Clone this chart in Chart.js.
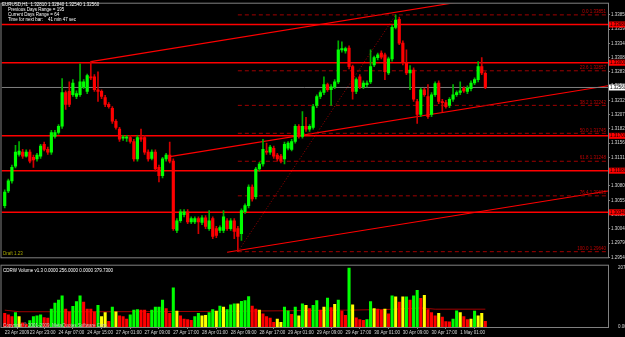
<!DOCTYPE html>
<html>
<head>
<meta charset="utf-8">
<title>EURUSD,H1</title>
<script src="https://cdn.jsdelivr.net/npm/chart.js@4.4.1/dist/chart.umd.min.js"></script>
<style>
  html, body { margin: 0; padding: 0; background: #000; width: 625px; height: 337px; overflow: hidden; }
  #priceChart { position: absolute; left: 0; top: 0; }
  #volumeChart { position: absolute; left: 0; top: 261px; }
</style>
</head>
<body>
<canvas id="priceChart" width="625" height="261"></canvas>
<canvas id="volumeChart" width="625" height="76"></canvas>
<script>
// ===== Data: EURUSD H1 candles [open, high, low, close], bar 1 = 23 Apr 16:00 =====
const candles = [
  // 1-10
  [1.3046, 1.3074, 1.3042, 1.3070], [1.3072, 1.3093, 1.3069, 1.3090], [1.3090, 1.3118, 1.3086, 1.3114],
  [1.3116, 1.3153, 1.3113, 1.3141], [1.3137, 1.3160, 1.3134, 1.3143], [1.3141, 1.3146, 1.3130, 1.3134],
  [1.3134, 1.3145, 1.3132, 1.3141], [1.3141, 1.3145, 1.3122, 1.3125], [1.3132, 1.3136, 1.3114, 1.3127],
  [1.3129, 1.3139, 1.3125, 1.3136],
  // 11-20
  [1.3134, 1.3155, 1.3130, 1.3152], [1.3155, 1.3159, 1.3143, 1.3146], [1.3146, 1.3150, 1.3137, 1.3141],
  [1.3141, 1.3180, 1.3137, 1.3176], [1.3169, 1.3180, 1.3166, 1.3176], [1.3176, 1.3190, 1.3173, 1.3187],
  [1.3187, 1.3272, 1.3183, 1.3247], [1.3247, 1.3250, 1.3217, 1.3226], [1.3249, 1.3266, 1.3222, 1.3226],
  [1.3243, 1.3270, 1.3240, 1.3264],
  // 21-30
  [1.3240, 1.3250, 1.3236, 1.3245], [1.3243, 1.3298, 1.3240, 1.3266], [1.3257, 1.3270, 1.3254, 1.3266],
  [1.3249, 1.3280, 1.3245, 1.3277], [1.3275, 1.3302, 1.3270, 1.3273], [1.3275, 1.3279, 1.3249, 1.3252],
  [1.3252, 1.3284, 1.3231, 1.3249], [1.3249, 1.3252, 1.3236, 1.3240], [1.3238, 1.3242, 1.3222, 1.3226],
  [1.3226, 1.3229, 1.3219, 1.3222],
  // 31-40
  [1.3219, 1.3222, 1.3192, 1.3196], [1.3196, 1.3199, 1.3182, 1.3185], [1.3182, 1.3185, 1.3160, 1.3164],
  [1.3166, 1.3171, 1.3162, 1.3167], [1.3166, 1.3171, 1.3160, 1.3167], [1.3167, 1.3171, 1.3157, 1.3160],
  [1.3160, 1.3164, 1.3125, 1.3129], [1.3129, 1.3171, 1.3125, 1.3167], [1.3167, 1.3182, 1.3160, 1.3164],
  [1.3167, 1.3171, 1.3137, 1.3141],
  // 41-50
  [1.3141, 1.3145, 1.3125, 1.3129], [1.3130, 1.3145, 1.3127, 1.3141], [1.3141, 1.3145, 1.3107, 1.3111],
  [1.3114, 1.3118, 1.3088, 1.3099], [1.3099, 1.3132, 1.3095, 1.3129], [1.3129, 1.3139, 1.3125, 1.3136],
  [1.3136, 1.3159, 1.3122, 1.3125], [1.3125, 1.3129, 1.3002, 1.3005], [1.3002, 1.3023, 1.2998, 1.3019],
  [1.3019, 1.3039, 1.3016, 1.3035],
  // 51-60
  [1.3030, 1.3039, 1.3026, 1.3035], [1.3035, 1.3039, 1.3014, 1.3017], [1.3017, 1.3026, 1.3014, 1.3023],
  [1.3017, 1.3026, 1.3014, 1.3023], [1.3023, 1.3026, 1.2996, 1.3017], [1.3016, 1.3028, 1.3012, 1.3024],
  [1.3024, 1.3028, 1.3005, 1.3009], [1.3005, 1.3037, 1.3002, 1.3019], [1.3023, 1.3026, 1.2987, 1.2991],
  [1.3005, 1.3009, 1.2989, 1.2993],
  // 61-70
  [1.3002, 1.3010, 1.2998, 1.3007], [1.3002, 1.3037, 1.2998, 1.3026], [1.3019, 1.3023, 1.3002, 1.3005],
  [1.3005, 1.3023, 1.3002, 1.3019], [1.3019, 1.3023, 1.2987, 1.3000], [1.3005, 1.3009, 1.2964, 1.2991],
  [1.2996, 1.3040, 1.2984, 1.3037], [1.3035, 1.3049, 1.3032, 1.3046], [1.3046, 1.3083, 1.3042, 1.3079],
  [1.3079, 1.3083, 1.3054, 1.3058],
  // 71-80
  [1.3062, 1.3114, 1.3058, 1.3111], [1.3111, 1.3123, 1.3107, 1.3120], [1.3120, 1.3164, 1.3116, 1.3146],
  [1.3143, 1.3157, 1.3137, 1.3141], [1.3141, 1.3153, 1.3137, 1.3150], [1.3148, 1.3152, 1.3130, 1.3134],
  [1.3136, 1.3139, 1.3125, 1.3129], [1.3134, 1.3137, 1.3122, 1.3125], [1.3129, 1.3159, 1.3120, 1.3155],
  [1.3148, 1.3160, 1.3145, 1.3157],
  // 81-90
  [1.3146, 1.3164, 1.3143, 1.3160], [1.3160, 1.3190, 1.3157, 1.3187], [1.3187, 1.3190, 1.3166, 1.3169],
  [1.3169, 1.3213, 1.3166, 1.3187], [1.3187, 1.3203, 1.3178, 1.3182], [1.3182, 1.3190, 1.3178, 1.3187],
  [1.3185, 1.3226, 1.3182, 1.3222], [1.3224, 1.3243, 1.3220, 1.3240], [1.3240, 1.3250, 1.3236, 1.3247],
  [1.3247, 1.3275, 1.3243, 1.3261],
  // 91-100
  [1.3261, 1.3264, 1.3249, 1.3252], [1.3252, 1.3261, 1.3224, 1.3257], [1.3257, 1.3270, 1.3254, 1.3266],
  [1.3266, 1.3339, 1.3263, 1.3323], [1.3323, 1.3337, 1.3319, 1.3325], [1.3321, 1.3328, 1.3317, 1.3325],
  [1.3326, 1.3330, 1.3289, 1.3293], [1.3293, 1.3296, 1.3235, 1.3249], [1.3249, 1.3273, 1.3245, 1.3270],
  [1.3275, 1.3279, 1.3254, 1.3257],
  // 101-110
  [1.3257, 1.3268, 1.3254, 1.3264], [1.3261, 1.3268, 1.3257, 1.3264], [1.3266, 1.3323, 1.3263, 1.3293],
  [1.3296, 1.3312, 1.3293, 1.3309], [1.3309, 1.3317, 1.3305, 1.3314], [1.3317, 1.3321, 1.3307, 1.3310],
  [1.3314, 1.3317, 1.3270, 1.3284], [1.3282, 1.3310, 1.3279, 1.3307], [1.3307, 1.3367, 1.3303, 1.3363],
  [1.3363, 1.3385, 1.3360, 1.3376],
  // 111-120
  [1.3377, 1.3381, 1.3332, 1.3335], [1.3335, 1.3339, 1.3296, 1.3300], [1.3300, 1.3323, 1.3279, 1.3282],
  [1.3282, 1.3295, 1.3252, 1.3287], [1.3287, 1.3291, 1.3231, 1.3235], [1.3231, 1.3235, 1.3192, 1.3208],
  [1.3208, 1.3255, 1.3204, 1.3252], [1.3252, 1.3255, 1.3240, 1.3243], [1.3240, 1.3261, 1.3201, 1.3204],
  [1.3208, 1.3247, 1.3204, 1.3243],
  // 121-130
  [1.3243, 1.3266, 1.3240, 1.3263], [1.3264, 1.3268, 1.3227, 1.3231], [1.3231, 1.3235, 1.3213, 1.3229],
  [1.3229, 1.3233, 1.3219, 1.3222], [1.3224, 1.3238, 1.3220, 1.3235], [1.3235, 1.3261, 1.3231, 1.3243],
  [1.3243, 1.3250, 1.3240, 1.3247], [1.3247, 1.3266, 1.3243, 1.3250], [1.3254, 1.3257, 1.3247, 1.3250],
  [1.3249, 1.3259, 1.3245, 1.3255],
  // 131-135
  [1.3254, 1.3268, 1.3250, 1.3264], [1.3264, 1.3273, 1.3261, 1.3270], [1.3270, 1.3302, 1.3266, 1.3293],
  [1.3293, 1.3309, 1.3279, 1.3282], [1.3281, 1.3284, 1.3254, 1.3256],
];

// ===== Data: CDRW Volume histogram (same bars) =====
const volumes = [
  482, 426, 370, 504, 370, 146, 90, 224, 370, 392,
  426, 336, 314, 628, 840, 952, 1098, 628, 538, 728,
  896, 1098, 874, 628, 628, 538, 762, 370, 504, 202,
  706, 538, 392, 370, 280, 426, 594, 616, 594, 594,
  482, 594, 706, 706, 952, 650, 482, 1378, 560, 392,
  280, 258, 236, 370, 482, 392, 415, 504, 616, 560,
  740, 706, 616, 784, 818, 818, 908, 930, 1076, 740,
  628, 594, 460, 370, 314, 168, 280, 168, 706, 572,
  448, 706, 392, 818, 762, 650, 762, 930, 594, 706,
  1020, 684, 796, 952, 560, 415, 2072, 784, 325, 258,
  236, 258, 896, 650, 628, 594, 628, 460, 1098, 1064,
  874, 1064, 1064, 952, 1098, 1288, 1008, 1120, 616, 504,
  392, 482, 348, 191, 180, 280, 572, 504, 370, 258,
  280, 560, 392, 482, 202,
];
// U = rising, D = falling, F = flat (indicator state per bar)
const volumeState = [
  'D','D','D','U','F','D','D','U','U','U',
  'U','D','D','U','U','U','U','D','D','U',
  'U','U','D','D','D','D','U','F','F','D',
  'U','F','D','D','D','U','U','U','D','D',
  'D','U','U','U','U','D','D','U','F','D',
  'D','D','D','U','U','F','F','U','U','F',
  'U','F','U','U','U','F','U','U','U','D',
  'D','F','D','D','D','D','F','F','U','U',
  'D','U','F','U','F','D','U','U','D','F',
  'U','D','F','U','D','D','U','F','D','D',
  'D','U','U','F','D','D','F','D','U','F',
  'D','F','U','D','U','U','D','F','D','D',
  'D','F','D','D','D','U','U','F','D','D',
  'F','U','F','F','D',
];
const volumeMaBars = [1, 5, 30, 60, 88, 96, 107, 112, 117, 121, 135];
const volumeMaValues = [594, 538, 538, 550, 583, 594, 616, 639, 672, 628, 628];

// ===== Axis ticks =====
const priceTicks = [1.29540, 1.29794, 1.30047, 1.30301, 1.30554, 1.30808, 1.31061, 1.31315, 1.31568,
  1.31822, 1.32075, 1.32329, 1.32582, 1.32836, 1.33089, 1.33343, 1.33596, 1.33850];
const timeTicks = [1, 8, 16, 24, 32, 40, 48, 56, 64, 72, 80, 88, 96, 104, 112, 120, 128];
const timeLabels = ['23 Apr 2009', '23 Apr 23:00', '24 Apr 07:00', '24 Apr 15:00', '27 Apr 01:00',
  '27 Apr 09:00', '27 Apr 17:00', '28 Apr 01:00', '28 Apr 09:00', '28 Apr 17:00', '29 Apr 01:00',
  '29 Apr 09:00', '29 Apr 17:00', '30 Apr 01:00', '30 Apr 09:00', '30 Apr 17:00', '1 May 01:00'];
const volumeTicks = [0, 2070.6];
const volumeTickLabels = ['0.0000', '2070.6'];

// ===== Objects drawn on the chart =====
const levels = [1.33680, 1.33000, 1.31700, 1.31080, 1.30340];
const bidPrice = 1.32560;
const fibRatios = ['0.0', '23.6', '38.2', '50.0', '61.8', '76.4', '100.0'];
const fibLevels = [1.33851, 1.32857, 1.32242, 1.31745, 1.31248, 1.30633, 1.29640];
const fibAnchors = [[66, 1.2964], [110, 1.3385]];
// [fromBar, fromPrice, toBar, toPrice]
const channels = [
  [25, 1.3302, 169.2, 1.3451],
  [47, 1.3133, 169.2, 1.3259],
  [63, 1.2963, 169.2, 1.3072],
];

const headerLines = [
  'EURUSD,H1  1.32810 1.32840 1.32540 1.32560',
  'Previous Days Range = 195',
  'Current Days Range = 64',
  'Time for next bar:    41 min 47 sec',
];

// ===== Look =====
const X_MIN = 0.1, X_MAX = 169.2;
const colors = {
  up: '#00ff00', down: '#ff0000', wickUp: '#00b000', wickDown: '#d00000',
  level: '#ff0000', fib: '#a00000', frame: '#808080', text: '#d8d8d8', flat: '#ffff00',
};
const FONT = '"Liberation Sans", Arial, sans-serif';
Chart.defaults.font.family = FONT;
Chart.defaults.font.size = 4.5;
Chart.defaults.color = colors.text;

const fixedWidth = w => scale => { scale.width = w; };
const isUp = c => c[3] >= c[0];

function lineSet(points, color, width, dash) {
  return {
    type: 'line', data: points.map(p => ({ x: p[0], y: p[1] })),
    borderColor: color, borderWidth: width, borderDash: dash || [],
    pointRadius: 0, fill: false, order: 5, tension: 0,
  };
}

// ===== Price chart overlays (frame, labels, info text) =====
const priceOverlay = {
  id: 'priceOverlay',
  afterDraw(chart) {
    const { ctx, chartArea: a } = chart;
    const y = chart.scales.y;
    ctx.save();
    ctx.strokeStyle = colors.frame;
    ctx.lineWidth = 1;
    ctx.strokeRect(a.left - 0.5, a.top - 0.5, a.right - a.left + 1, a.bottom - a.top + 1);
    ctx.font = '4.5px ' + FONT;
    ctx.textBaseline = 'middle';

    // fib level captions
    ctx.fillStyle = '#c00000';
    ctx.textAlign = 'right';
    fibLevels.forEach((v, i) => {
      ctx.fillText(fibRatios[i] + ' ' + v.toFixed(5), a.right - 2, y.getPixelForValue(v) - 3);
    });

    // price boxes for the horizontal lines
    ctx.textAlign = 'left';
    levels.forEach(v => {
      const py = y.getPixelForValue(v);
      ctx.fillStyle = '#ff0000';
      ctx.fillRect(a.right + 1, py - 3, 17, 6);
      ctx.fillStyle = '#000';
      ctx.fillText(v.toFixed(5), a.right + 2, py);
    });
    const by = y.getPixelForValue(bidPrice);
    ctx.fillStyle = '#ffffff';
    ctx.fillRect(a.right + 1, by - 3, 17, 6);
    ctx.fillStyle = '#000';
    ctx.fillText(bidPrice.toFixed(5), a.right + 2, by);

    // info block
    ctx.fillStyle = '#ffffff';
    headerLines.forEach((t, i) => ctx.fillText(t, i === 0 ? 2 : 8, 5 + i * 5));
    ctx.fillStyle = '#a8a800';
    ctx.fillText('Draft 1.23', 3, a.bottom - 4);
    ctx.restore();
  }
};

// ===== Price chart =====
function initPriceChart() {
  const ctx = document.getElementById('priceChart').getContext('2d');
  const datasets = [
    {
      label: 'body', data: candles.map((c, i) => ({ x: i + 1, y: [c[0], c[3]] })),
      backgroundColor: candles.map(c => isUp(c) ? colors.up : colors.down),
      barThickness: 2.5, minBarLength: 1, grouped: false, order: 0,
    },
    {
      label: 'wick', data: candles.map((c, i) => ({ x: i + 1, y: [c[2], c[1]] })),
      backgroundColor: candles.map(c => isUp(c) ? colors.wickUp : colors.wickDown),
      barThickness: 1, grouped: false, order: 1,
    },
  ];
  levels.forEach(v => datasets.push(lineSet([[X_MIN, v], [X_MAX, v]], colors.level, 1.5)));
  datasets.push(lineSet([[X_MIN, bidPrice], [X_MAX, bidPrice]], colors.frame, 1));
  fibLevels.forEach(v => datasets.push(lineSet([[fibAnchors[0][0], v], [X_MAX, v]], colors.fib, 1, [4, 3])));
  datasets.push(lineSet(fibAnchors, colors.fib, 1, [1, 2]));
  channels.forEach(c => datasets.push(lineSet([[c[0], c[1]], [c[2], c[3]]], colors.level, 1.1)));

  new Chart(ctx, {
    type: 'bar',
    data: { datasets },
    options: {
      responsive: false,
      animation: false,
      layout: { padding: { left: 1.5, top: 3, right: 0, bottom: 3 } },
      plugins: { legend: { display: false }, tooltip: { enabled: false } },
      scales: {
        x: { type: 'linear', min: X_MIN, max: X_MAX, offset: false, display: false },
        y: {
          position: 'right', min: 1.2954, max: 1.3405,
          afterBuildTicks: s => { s.ticks = priceTicks.map(v => ({ value: v })); },
          afterFit: fixedWidth(17),
          border: { display: true, color: colors.frame },
          grid: { display: true, drawOnChartArea: false, drawTicks: true, tickLength: 2, color: colors.frame },
          ticks: { padding: 1, color: colors.text, callback: v => v.toFixed(5) },
        },
      },
    },
    plugins: [priceOverlay],
  });
}

// ===== Volume chart =====
const volumeOverlay = {
  id: 'volumeOverlay',
  afterDraw(chart) {
    const { ctx, chartArea: a } = chart;
    ctx.save();
    ctx.strokeStyle = colors.frame;
    ctx.lineWidth = 1;
    ctx.strokeRect(a.left - 0.5, a.top - 0.5, a.right - a.left + 1, a.bottom - a.top + 1);
    ctx.font = '4.5px ' + FONT;
    ctx.textBaseline = 'middle';
    ctx.fillStyle = '#ffffff';
    ctx.fillText('CDRW Volume v1.3 0.0000 256.0000 0.0000 379.7300', 3, a.top + 5);
    ctx.fillStyle = '#c8c8c8';
    ctx.fillText('Copyright \u00a9 2001-2009, MetaQuotes Software Corp.', 3, a.bottom - 1.5);
    ctx.restore();
  }
};

function initVolumeChart() {
  const ctx = document.getElementById('volumeChart').getContext('2d');
  const stateColor = { U: colors.up, D: colors.down, F: colors.flat };
  new Chart(ctx, {
    type: 'bar',
    data: {
      datasets: [
        {
          label: 'Volume', data: volumes.map((v, i) => ({ x: i + 1, y: v })),
          backgroundColor: volumeState.map(s => stateColor[s]),
          barThickness: 2.4, grouped: false, order: 1,
        },
        lineSet(volumeMaBars.map((b, i) => [b, volumeMaValues[i]]), '#a00000', 1),
      ],
    },
    options: {
      responsive: false,
      animation: false,
      layout: { padding: { left: 1.5, top: 1.5, right: 0, bottom: 0 } },
      plugins: { legend: { display: false }, tooltip: { enabled: false } },
      scales: {
        x: {
          type: 'linear', min: X_MIN, max: X_MAX, offset: false,
          afterBuildTicks: s => { s.ticks = timeTicks.map(v => ({ value: v })); },
          afterFit: s => { s.height = 10; },
          border: { display: true, color: colors.frame },
          grid: { display: true, drawOnChartArea: false, drawTicks: true, tickLength: 2, color: colors.frame },
          ticks: {
            autoSkip: false, maxRotation: 0, minRotation: 0, align: 'start', padding: 1,
            color: colors.text, callback: (v, i) => timeLabels[i],
          },
        },
        y: {
          position: 'right', min: 0, max: 2160,
          afterBuildTicks: s => { s.ticks = volumeTicks.map(v => ({ value: v })); },
          afterFit: fixedWidth(17),
          border: { display: true, color: colors.frame },
          grid: { display: false },
          ticks: { padding: 2, color: colors.text, callback: (v, i) => volumeTickLabels[i] },
        },
      },
    },
    plugins: [volumeOverlay],
  });
}

initPriceChart();
initVolumeChart();
</script>
</body>
</html>
